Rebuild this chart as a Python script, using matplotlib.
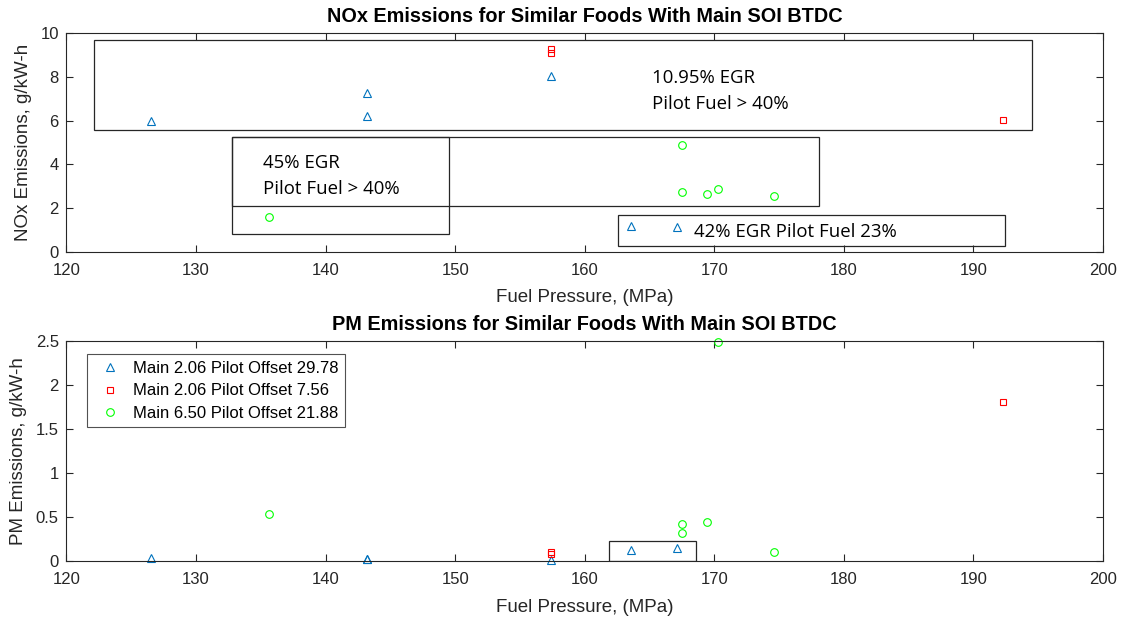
import matplotlib
matplotlib.use('Agg')
import matplotlib.pyplot as plt
from matplotlib.patches import Rectangle

plt.rcParams['font.family'] = ['Liberation Sans', 'DejaVu Sans']

# Fuel pressure (MPa) and emissions for each injection strategy
p_a = [126.5, 143.2, 143.2, 157.4, 163.6, 167.1]
nox_a = [6.0, 7.25, 6.2, 8.05, 1.2, 1.15]
pm_a = [0.04, 0.03, 0.03, 0.02, 0.13, 0.15]

p_b = [157.4, 157.4, 192.3]
nox_b = [9.25, 9.1, 6.05]
pm_b = [0.10, 0.08, 1.81]

p_c = [135.6, 167.5, 167.5, 169.4, 170.3, 174.6]
nox_c = [1.6, 4.9, 2.75, 2.65, 2.87, 2.55]
pm_c = [0.54, 0.42, 0.32, 0.45, 2.48, 0.10]

labels = ['Main 2.06 Pilot Offset 29.78',
          'Main 2.06 Pilot Offset 7.56',
          'Main 6.50 Pilot Offset 21.88']

grey = '#262626'

fig = plt.figure(figsize=(11.23, 6.2), dpi=100)
ax1 = fig.add_axes([0.0592, 0.5935, 0.923, 0.3533])
ax2 = fig.add_axes([0.0592, 0.0947, 0.923, 0.3558])


def scatter_sets(ax, ya, yb, yc):
    ax.plot(p_a, ya, '^', ms=6, mew=0.8, mfc='none', color='#0072BD',
            label=labels[0], clip_on=False)
    ax.plot(p_b, yb, 's', ms=4.5, mew=0.8, mfc='none', color='red',
            label=labels[1], clip_on=False)
    ax.plot(p_c, yc, 'o', ms=5.5, mew=0.8, mfc='none', color='#00FF00',
            label=labels[2], clip_on=False)


def style(ax, title, ylabel):
    ax.set_xlim(120, 200)
    ax.set_xticks(range(120, 201, 10))
    ax.tick_params(direction='in', top=True, right=True, length=5,
                   labelsize=12, colors=grey, width=0.8)
    ax.tick_params(axis='x', pad=8)
    ax.tick_params(axis='y', pad=5.5)
    for s in ax.spines.values():
        s.set_color(grey)
        s.set_linewidth(0.8)
    ax.set_title(title, fontsize=14.3, fontweight='bold', pad=8)
    ax.set_xlabel('Fuel Pressure, (MPa)', fontsize=13.5, color=grey, labelpad=8)
    ax.set_ylabel(ylabel, fontsize=13.5, color=grey, labelpad=6)


scatter_sets(ax1, nox_a, nox_b, nox_c)
ax1.set_ylim(0, 10)
ax1.set_yticks(range(0, 11, 2))
style(ax1, 'NOx Emissions for Similar Foods With Main SOI BTDC',
      'NOx Emissions, g/kW-h')

# grouping boxes
box = dict(fill=False, edgecolor=grey, lw=0.9)
ax1.add_patch(Rectangle((122.15, 5.56), 72.35, 4.11, **box))
ax1.add_patch(Rectangle((132.76, 2.09), 45.34, 3.15, **box))
ax1.add_patch(Rectangle((132.76, 0.81), 16.74, 4.43, **box))
ax1.add_patch(Rectangle((162.55, 0.26), 29.85, 1.43, **box))

note = dict(fontsize=13.4, family=['Open Sans', 'DejaVu Sans'], color='black',
            va='center', ha='left', linespacing=1.6)
ax1.text(165.2, 7.36, '10.95% EGR\nPilot Fuel > 40%', **note)
ax1.text(135.2, 3.48, '45% EGR\nPilot Fuel > 40%', **note)
ax1.text(168.4, 0.93, '42% EGR Pilot Fuel 23%', **note)

scatter_sets(ax2, pm_a, pm_b, pm_c)
ax2.set_ylim(0, 2.5)
ax2.set_yticks([0, 0.5, 1, 1.5, 2, 2.5])
ax2.set_yticklabels(['0', '0.5', '1', '1.5', '2', '2.5'])
style(ax2, 'PM Emissions for Similar Foods With Main SOI BTDC',
      'PM Emissions, g/kW-h')
ax2.add_patch(Rectangle((161.85, 0.007), 6.75, 0.226, **box))

leg = ax2.legend(loc='upper left', bbox_to_anchor=(0.0196, 0.938), fontsize=12,
                 frameon=True, fancybox=False, borderpad=0.4, borderaxespad=0,
                 handletextpad=0.36, labelspacing=0.44, handlelength=2)
leg.get_frame().set_edgecolor(grey)
leg.get_frame().set_linewidth(0.8)

fig.savefig('out.png', dpi=100)
